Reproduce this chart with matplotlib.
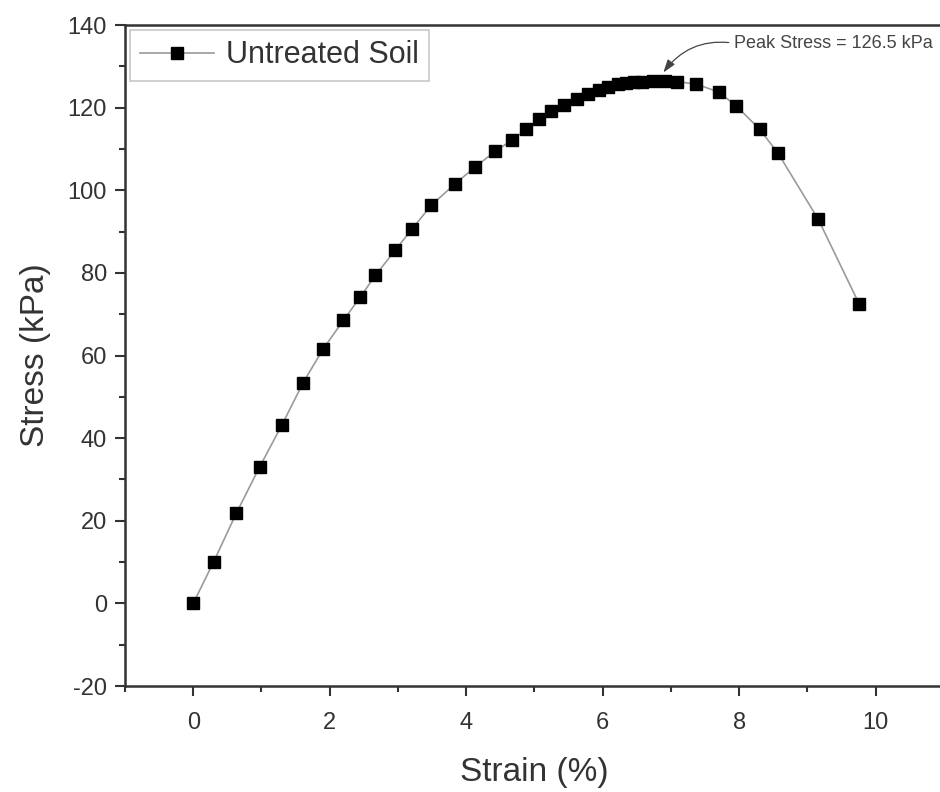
import matplotlib
matplotlib.use("Agg")
import matplotlib.pyplot as plt
from matplotlib.ticker import MultipleLocator

strain = [0, 0.30, 0.63, 0.975, 1.30, 1.61, 1.90, 2.20, 2.45, 2.67, 2.96, 3.21,
          3.49, 3.84, 4.13, 4.43, 4.67, 4.88, 5.07, 5.25, 5.43, 5.62, 5.79, 5.94,
          6.08, 6.23, 6.35, 6.46, 6.57, 6.74, 6.92, 7.09, 7.37, 7.70, 7.96, 8.30,
          8.57, 9.16, 9.76]
stress = [0, 10.1, 21.8, 33.1, 43.2, 53.4, 61.5, 68.5, 74.2, 79.4, 85.5, 90.7,
          96.4, 101.6, 105.6, 109.5, 112.1, 114.8, 117.2, 119.2, 120.6, 122.0, 123.2, 124.3,
          125.0, 125.7, 126.0, 126.1, 126.3, 126.4, 126.5, 126.3, 125.7, 123.8, 120.4, 114.8,
          109.0, 93.0, 72.5]
series_label = "Untreated Soil"
peak_strain = 6.92
peak_stress = 126.5
peak_text = "Peak Stress = 126.5 kPa"
x_label = "Strain (%)"
y_label = "Stress (kPa)"

plt.rcParams['font.family'] = ['Liberation Sans', 'DejaVu Sans']
plt.rcParams['axes.unicode_minus'] = False
dark = '#333333'

fig = plt.figure(figsize=(9.4, 7.92), dpi=100)
ax = fig.add_axes([0.133, 0.1338, 1.004 - 0.133, 0.9684 - 0.1338])

ax.plot(strain, stress, color='#9a9a9a', lw=1.2, marker='s', ms=9,
        mfc='black', mec='black', label=series_label, zorder=3)

ax.set_xlim(-1, 11)
ax.set_ylim(-20, 140)
ax.xaxis.set_major_locator(MultipleLocator(2))
ax.xaxis.set_minor_locator(MultipleLocator(1))
ax.yaxis.set_major_locator(MultipleLocator(20))
ax.yaxis.set_minor_locator(MultipleLocator(10))
ax.tick_params(which='major', direction='out', length=7, width=1.5, colors=dark,
               labelsize=17)
ax.tick_params(axis='x', which='major', pad=12)
ax.tick_params(axis='y', which='major', pad=6)
ax.tick_params(which='minor', direction='out', length=4, width=1.5, colors=dark)
ax.tick_params(axis='x', top=False)
ax.tick_params(axis='y', right=False)
for s in ['left', 'bottom', 'top']:
    ax.spines[s].set_linewidth(1.8)
    ax.spines[s].set_color(dark)
ax.spines['right'].set_visible(False)

ax.set_xlabel(x_label, fontsize=24, color=dark, labelpad=16)
ax.set_ylabel(y_label, fontsize=24, color=dark, labelpad=12)

leg = ax.legend(loc='upper left', fontsize=22, frameon=True, fancybox=False,
                borderaxespad=0.15, handlelength=2.4, handletextpad=0.4,
                borderpad=0.35, labelcolor=dark)
leg.get_frame().set_edgecolor('#bbbbbb')
leg.get_frame().set_linewidth(1.2)

ax.annotate(peak_text, xy=(peak_strain - 0.03, peak_stress + 2.0),
            xytext=(7.93, 135.6), fontsize=13, color='#444444',
            ha='left', va='center',
            arrowprops=dict(arrowstyle='-|>,head_length=0.6,head_width=0.2',
                            color='#444444', lw=0.9,
                            connectionstyle='arc3,rad=0.3',
                            relpos=(0, 0.5),
                            shrinkA=2, shrinkB=0))

fig.savefig('out.png', dpi=100)
